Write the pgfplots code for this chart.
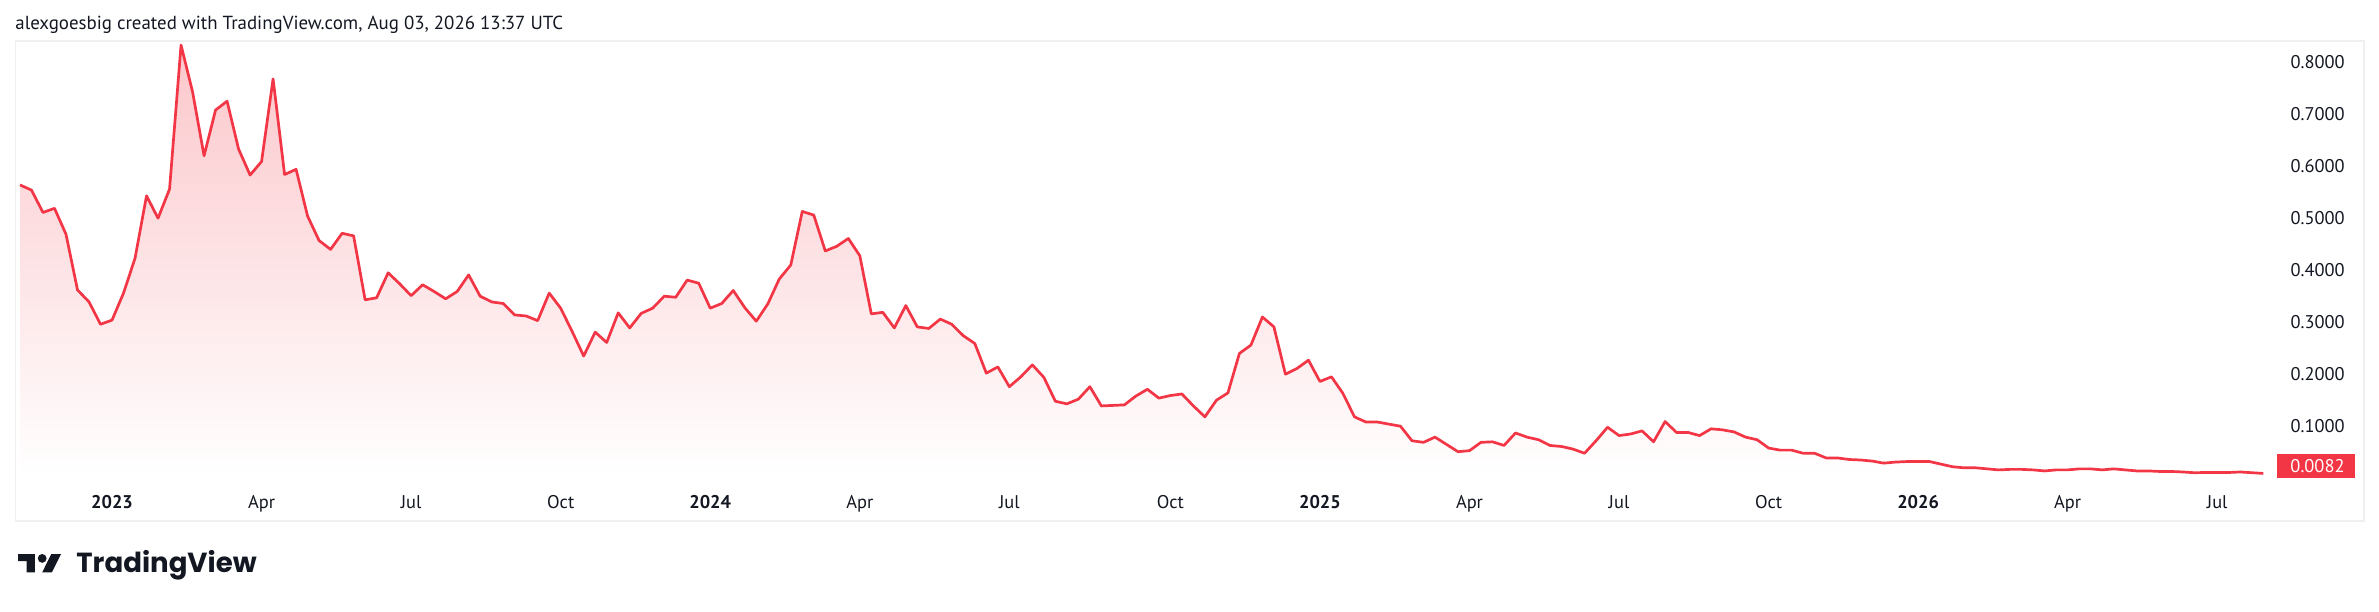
\documentclass[border=0pt]{standalone}
\usepackage{fontspec}
\setmainfont{PT Sans}
\newfontfamily\logofont{Poppins}
\usepackage{pgfplots}
\usepackage{pgfplotstable}
\pgfplotsset{compat=1.18}
\definecolor{tvred}{RGB}{242,54,69}
\definecolor{tvtext}{RGB}{19,23,34}
\definecolor{paneborder}{RGB}{240,240,240}
\pgfplotstableread{
i v
0 0.563
1 0.553
2 0.510
3 0.518
4 0.468
5 0.361
6 0.338
7 0.295
8 0.303
9 0.355
10 0.422
11 0.542
12 0.499
13 0.555
14 0.832
15 0.742
16 0.619
17 0.707
18 0.724
19 0.632
20 0.582
21 0.608
22 0.767
23 0.583
24 0.593
25 0.503
26 0.456
27 0.439
28 0.470
29 0.465
30 0.342
31 0.346
32 0.394
33 0.373
34 0.350
35 0.371
36 0.358
37 0.344
38 0.358
39 0.390
40 0.349
41 0.338
42 0.335
43 0.313
44 0.311
45 0.302
46 0.355
47 0.326
48 0.281
49 0.234
50 0.280
51 0.260
52 0.317
53 0.288
54 0.316
55 0.326
56 0.349
57 0.347
58 0.380
59 0.374
60 0.326
61 0.335
62 0.360
63 0.327
64 0.301
65 0.334
66 0.382
67 0.409
68 0.512
69 0.505
70 0.436
71 0.445
72 0.460
73 0.427
74 0.315
75 0.318
76 0.288
77 0.331
78 0.290
79 0.287
80 0.305
81 0.295
82 0.273
83 0.258
84 0.201
85 0.213
86 0.175
87 0.194
88 0.217
89 0.193
90 0.147
91 0.142
92 0.151
93 0.175
94 0.138
95 0.139
96 0.140
97 0.157
98 0.170
99 0.153
100 0.158
101 0.161
102 0.138
103 0.117
104 0.149
105 0.163
106 0.239
107 0.255
108 0.309
109 0.290
110 0.199
111 0.210
112 0.226
113 0.185
114 0.194
115 0.162
116 0.117
117 0.107
118 0.107
119 0.103
120 0.099
121 0.071
122 0.068
123 0.078
124 0.064
125 0.050
126 0.052
127 0.068
128 0.069
129 0.062
130 0.086
131 0.078
132 0.073
133 0.062
134 0.060
135 0.055
136 0.047
137 0.071
138 0.097
139 0.081
140 0.084
141 0.090
142 0.069
143 0.108
144 0.087
145 0.087
146 0.081
147 0.094
148 0.092
149 0.088
150 0.078
151 0.073
152 0.057
153 0.053
154 0.053
155 0.047
156 0.047
157 0.038
158 0.038
159 0.035
160 0.034
161 0.032
162 0.028
163 0.030
164 0.031
165 0.031
166 0.031
167 0.026
168 0.021
169 0.019
170 0.019
171 0.017
172 0.015
173 0.016
174 0.016
175 0.015
176 0.013
177 0.015
178 0.015
179 0.017
180 0.017
181 0.015
182 0.017
183 0.015
184 0.013
185 0.013
186 0.012
187 0.012
188 0.011
189 0.0096
190 0.010
191 0.010
192 0.010
193 0.011
194 0.0096
195 0.0082
}\pricedata
\begin{document}
\begin{tikzpicture}
\useasboundingbox (0,0) rectangle (1189.5pt,305.5pt);
% title
\node[anchor=base west, inner sep=0pt, text=tvtext, font=\fontsize{9.45}{11}\selectfont] at (7.5pt,290.85pt) {alexgoesbig created with TradingView.com, Aug 03, 2026 13:37 UTC};
\begin{axis}[
  at={(7.65pt,45pt)}, anchor=south west,
  scale only axis, width=1174.35pt, height=240pt,
  xmin=-0.4086, xmax=203.76, ymin=-0.08327, ymax=0.83981,
  axis line style={draw=paneborder, line width=0.75pt},
  major tick length=0pt,
  xtick={8,21,34,47,60,73,86,100,113,126,139,152,165,178,191},
  xticklabels={\textbf{2023},Apr,Jul,Oct,\textbf{2024},Apr,Jul,Oct,\textbf{2025},Apr,Jul,Oct,\textbf{2026},Apr,Jul},
  xticklabel style={anchor=base, yshift=6.35pt, inner sep=0pt, text=tvtext, font=\fontsize{9.2}{10}\selectfont},
  ytick={0.1,0.2,0.3,0.4,0.5,0.6,0.7,0.8},
  yticklabels={0.1000,0.2000,0.3000,0.4000,0.5000,0.6000,0.7000,0.8000},
  yticklabel pos=right,
  yticklabel style={anchor=east, xshift=-9.5pt, inner sep=0pt, text=tvtext, font=\fontsize{9.2}{10}\selectfont},
  clip=true,
]
\addplot[draw=none, top color=tvred!28!white, bottom color=white] table[x=i,y=v] {\pricedata} \closedcycle;
\addplot[tvred, line width=1.35pt, line join=round, mark=none] table[x=i,y=v] {\pricedata};
\fill[tvred] (axis cs:196.19,0.04558) rectangle (axis cs:202.97,-0.00058);
\node[anchor=east, inner sep=0pt, text=white, font=\fontsize{9.2}{10}\selectfont] at (axis cs:202.10,0.0225) {0.0082};
\end{axis}
% logo
\fill[tvtext] (9pt,28.5pt) -- (17.45pt,28.5pt) -- (17.45pt,19.3pt) -- (13.25pt,19.3pt) -- (13.25pt,24.95pt) -- (9pt,24.95pt) -- cycle;
\fill[tvtext] (21.1pt,26.3pt) circle (2.2pt);
\fill[tvtext] (25.95pt,19.3pt) -- (21.1pt,19.3pt) -- (25.65pt,28.5pt) -- (30.5pt,28.5pt) -- cycle;
\node[anchor=base west, inner sep=0pt, text=tvtext, font=\logofont\bfseries\fontsize{13.8}{15}\selectfont] at (38pt,19.15pt) {TradingView};
\end{tikzpicture}
\end{document}
